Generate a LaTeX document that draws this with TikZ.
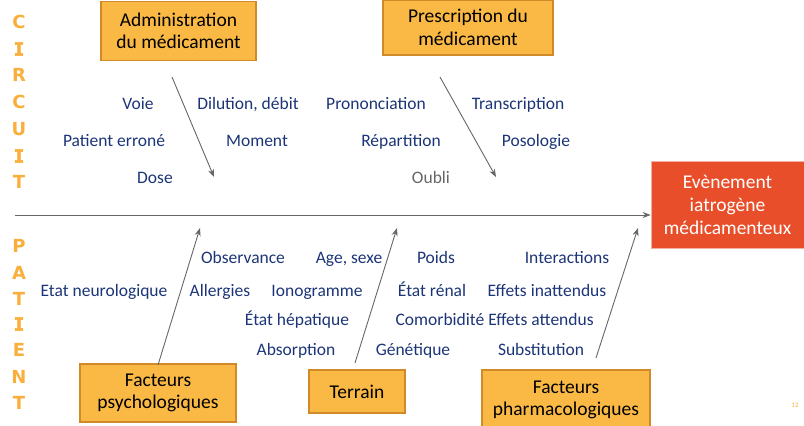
\documentclass[tikz,border=0pt]{standalone}
\usepackage{fontspec}
\setmainfont{Carlito}
\newfontfamily\letterfont{DejaVu Sans}
\newfontfamily\letterI[FakeBold=3]{DejaVu Sans Mono}
\usetikzlibrary{arrows.meta}
\definecolor{navy}{HTML}{1C3578}
\definecolor{boxfill}{HTML}{F9B944}
\definecolor{boxline}{HTML}{D08A2A}
\definecolor{evfill}{HTML}{E94E2A}
\definecolor{evline}{HTML}{F2B0A0}
\definecolor{lettercol}{HTML}{FAAE3C}
\definecolor{linecol}{HTML}{666666}
\tikzset{
  cause/.style={text=navy, font=\fontsize{17.5}{20}\selectfont, inner sep=0pt, anchor=base, yshift=-6pt},
  catbox/.style={draw=boxline, line width=1.2pt, fill=boxfill, font=\fontsize{19.5}{22.5}\selectfont, align=center, inner sep=0pt, anchor=center},
  vletter/.style={text=lettercol, font=\letterfont\bfseries\fontsize{18}{18}\selectfont, inner sep=0pt, anchor=center},
  vletterI/.style={text=lettercol, font=\letterI\bfseries\fontsize{18}{18}\selectfont, inner sep=0pt, anchor=center},
  bone/.style={draw=linecol, line width=0.9pt, -{Stealth[length=8pt,width=6pt]}},
}
\begin{document}
\begin{tikzpicture}[x=1pt,y=-1pt]
\useasboundingbox (0,0) rectangle (804,426);
% category boxes
\node[catbox, minimum width=155pt, minimum height=59pt] (adm) at (178.5,31) {Administration\\du médicament};
\node[catbox, minimum width=170pt, minimum height=55pt] (pre) at (468,27.5) {Prescription du\\médicament};
\node[catbox, minimum width=156pt, minimum height=58pt] (psy) at (158,393) {Facteurs\\psychologiques};
\node[catbox, minimum width=96pt, minimum height=43pt] (ter) at (357,391.5) {Terrain};
\node[catbox, minimum width=168pt, minimum height=60pt] (pha) at (566,400) {Facteurs\\pharmacologiques};
\node[fill=evfill, draw=evline, line width=0.8pt, text=white, font=\fontsize{19.5}{23}\selectfont, align=center, minimum width=153pt, minimum height=87pt, inner sep=0pt] (ev) at (727.5,204.5) {Evènement\\iatrogène\\médicamenteux};
% spine
\coordinate (sp) at (15,215);
\draw[bone] (sp) -- (ev.west |- sp);
% bones
\coordinate (a1) at (172,77); \coordinate (a2) at (214,177);
\coordinate (p1) at (440,77); \coordinate (p2) at (496,177);
\coordinate (b1) at (158,365); \coordinate (b2) at (200,228);
\coordinate (t1) at (355,363); \coordinate (t2) at (397,228);
\coordinate (f1) at (596,358); \coordinate (f2) at (638,228);
\draw[bone] (a1) -- (a2);
\draw[bone] (p1) -- (p2);
\draw[bone] (b1) -- (b2);
\draw[bone] (t1) -- (t2);
\draw[bone] (f1) -- (f2);
% causes top
\node[cause] (c1) at (138,103) {Voie};
\node[cause] (c2) at (248,103) {Dilution, débit};
\node[cause] (c3) at (114,140) {Patient erroné};
\node[cause] (c4) at (257,140) {Moment};
\node[cause] (c5) at (155,177) {Dose};
\node[cause] (c6) at (376,103) {Prononciation};
\node[cause] (c7) at (518,103) {Transcription};
\node[cause] (c8) at (401,140) {Répartition};
\node[cause] (c9) at (536,140) {Posologie};
\node[cause, text=linecol] (c10) at (431,177) {Oubli};
% causes bottom
\node[cause] (d1) at (243,257) {Observance};
\node[cause] (d2) at (349,257) {Age, sexe};
\node[cause] (d3) at (436,257) {Poids};
\node[cause] (d4) at (567,257) {Interactions};
\node[cause] (d5) at (104,290) {Etat neurologique};
\node[cause] (d6) at (220,290) {Allergies};
\node[cause] (d7) at (317,290) {Ionogramme};
\node[cause] (d8) at (432,290) {État rénal};
\node[cause] (d9) at (547,290) {Effets inattendus};
\node[cause] (d10) at (297,319) {État hépatique};
\node[cause] (d11) at (440,319) {Comorbidité};
\node[cause] (d12) at (541,319) {Effets attendus};
\node[cause] (d13) at (296,349) {Absorption};
\node[cause] (d14) at (413,349) {Génétique};
\node[cause] (d15) at (541,349) {Substitution};
% vertical words
\node[vletter] (l1) at (19,22) {C};
\node[vletterI] (l2) at (19,49) {I};
\node[vletter] (l3) at (19,75) {R};
\node[vletter] (l4) at (19,102) {C};
\node[vletter] (l5) at (19,129) {U};
\node[vletterI] (l6) at (19,156) {I};
\node[vletter] (l7) at (19,182) {T};
\node[vletter] (m1) at (19,246) {P};
\node[vletter] (m2) at (19,273) {A};
\node[vletter] (m3) at (19,299) {T};
\node[vletterI] (m4) at (19,324) {I};
\node[vletter] (m5) at (19,350) {E};
\node[vletter] (m6) at (19,377) {N};
\node[vletter] (m7) at (19,403) {T};
\node[text=lettercol, font=\fontsize{7}{8}\selectfont, inner sep=0pt] (pg) at (795,405) {12};
\end{tikzpicture}
\end{document}
